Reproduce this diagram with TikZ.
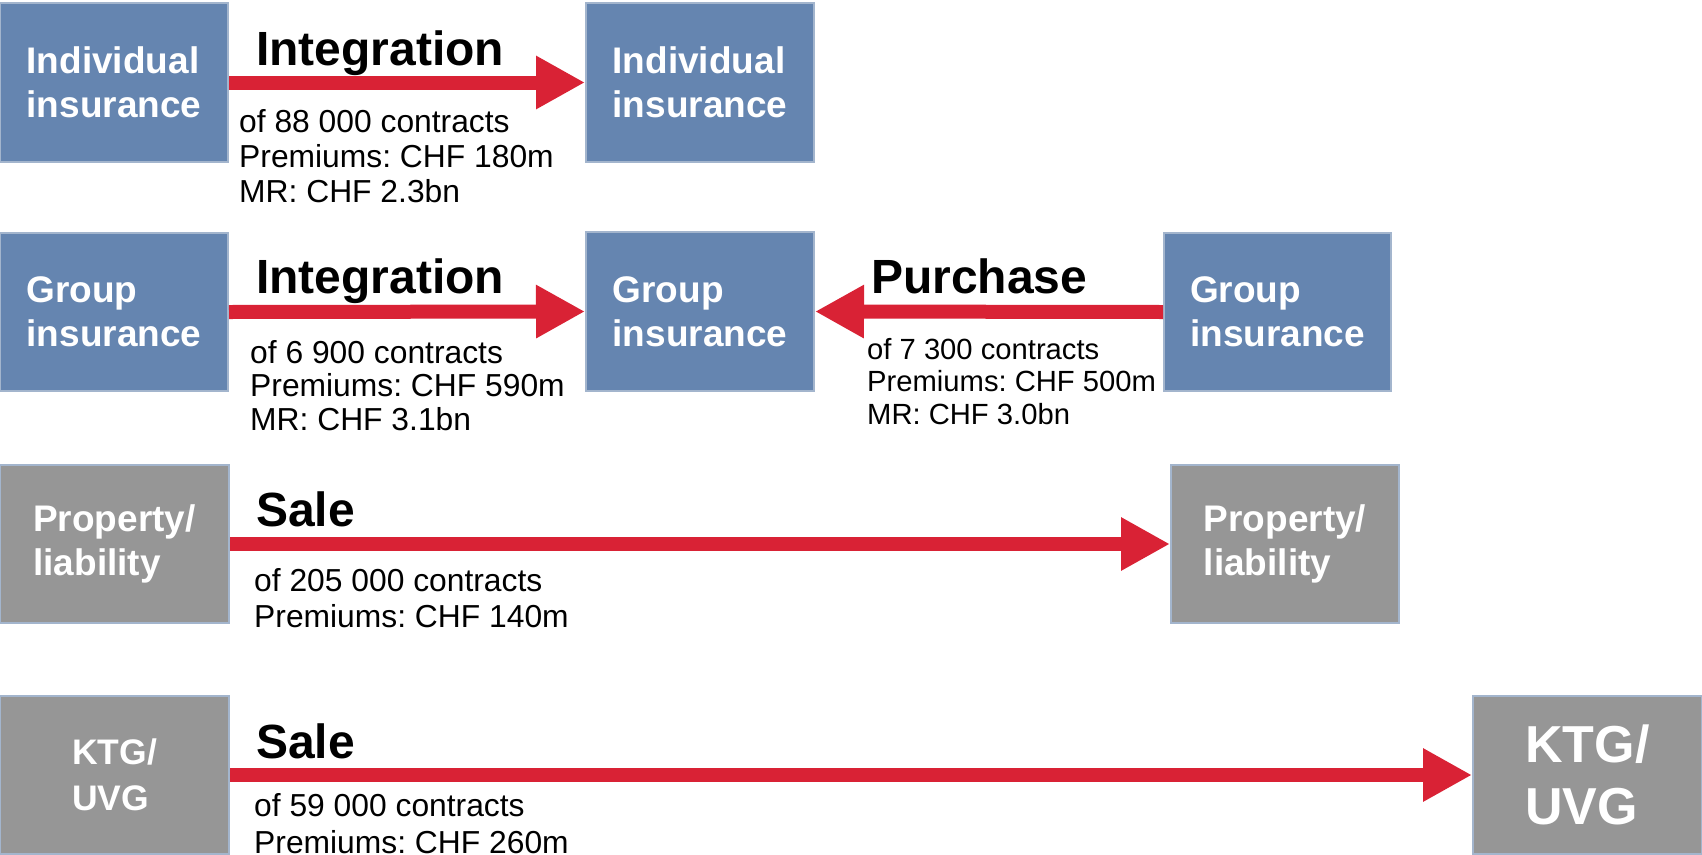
\documentclass[tikz,border=0pt]{standalone}
\usepackage{fontspec}
\setmainfont{Liberation Sans}
\usetikzlibrary{arrows.meta}
\frenchspacing
\definecolor{boxblue}{HTML}{6585B0}
\definecolor{boxgray}{HTML}{969696}
\definecolor{boxedge}{HTML}{A3B5CD}
\definecolor{arrred}{HTML}{D92235}
\tikzset{
  box/.style={rectangle, draw=boxedge, line width=2pt, text=white, align=left,
    inner sep=0pt, font=\fontsize{37}{44}\selectfont\bfseries},
  bluebox/.style={box, fill=boxblue},
  graybox/.style={box, fill=boxgray},
  redarrow/.style={draw=arrred, line width=14pt, -{Triangle[length=49pt,width=50pt]}},
  title/.style={anchor=base west, inner sep=0pt, font=\fontsize{48}{50}\selectfont\bfseries},
  info/.style={anchor=base west, inner sep=0pt, align=left}
}
\begin{document}
\begin{tikzpicture}[x=1pt,y=-1pt]
\useasboundingbox (0,0) rectangle (1702,854);
% row 1
\node[bluebox, minimum width=228pt, minimum height=159pt] (a1) at (114,82.5) {Individual\\insurance};
\node[bluebox, minimum width=228pt, minimum height=159pt] (b1) at (700,82.5) {Individual\\insurance};
\draw[redarrow] (a1.east) -- (b1.west);
\node[title] (t1) at (256,65) {Integration};
\node[info, font=\fontsize{31.8}{35}\selectfont] (l1) at (239,202) {of 88 000 contracts\\Premiums: CHF 180m\\MR: CHF 2.3bn};
% row 2
\node[bluebox, minimum width=228pt, minimum height=158pt] (a2) at (114,312) {Group\\insurance};
\node[bluebox, minimum width=228pt, minimum height=159pt] (b2) at (700,311.5) {Group\\insurance};
\node[bluebox, minimum width=227pt, minimum height=158pt] (c2) at (1277.5,312) {Group\\insurance};
\draw[redarrow] (a2.east) -- (b2.west);
\draw[redarrow] (c2.west) -- (b2.east);
\node[title] (t2) at (256,293) {Integration};
\node[info, font=\fontsize{31.8}{33.5}\selectfont] (l2) at (250,430) {of 6 900 contracts\\Premiums: CHF 590m\\MR: CHF 3.1bn};
\node[title] (t2b) at (871,293) {Purchase};
\node[info, font=\fontsize{29.2}{32.5}\selectfont] (l2b) at (867,424) {of 7 300 contracts\\Premiums: CHF 500m\\MR: CHF 3.0bn};
% row 3
\node[graybox, minimum width=229pt, minimum height=158pt] (a3) at (114.5,544) {Property/\\liability};
\node[graybox, minimum width=228pt, minimum height=158pt] (b3) at (1285,544) {Property/\\liability};
\draw[redarrow] (a3.east) -- (b3.west);
\node[title] (t3) at (256,526) {Sale};
\node[info, font=\fontsize{31.8}{36}\selectfont] (l3) at (254,627) {of 205 000 contracts\\Premiums: CHF 140m};
% row 4
\node[graybox, minimum width=229pt, minimum height=158pt, font=\fontsize{35.5}{46}\selectfont\bfseries] (a4) at (114.5,775) {KTG/\\UVG};
\node[graybox, minimum width=229pt, minimum height=158pt, font=\fontsize{52}{62}\selectfont\bfseries] (b4) at (1587.5,775) {KTG/\\UVG};
\draw[redarrow] (a4.east) -- (b4.west);
\node[title] (t4) at (256,758) {Sale};
\node[info, font=\fontsize{31.8}{37}\selectfont] (l4) at (254,853) {of 59 000 contracts\\Premiums: CHF 260m};
\end{tikzpicture}
\end{document}
